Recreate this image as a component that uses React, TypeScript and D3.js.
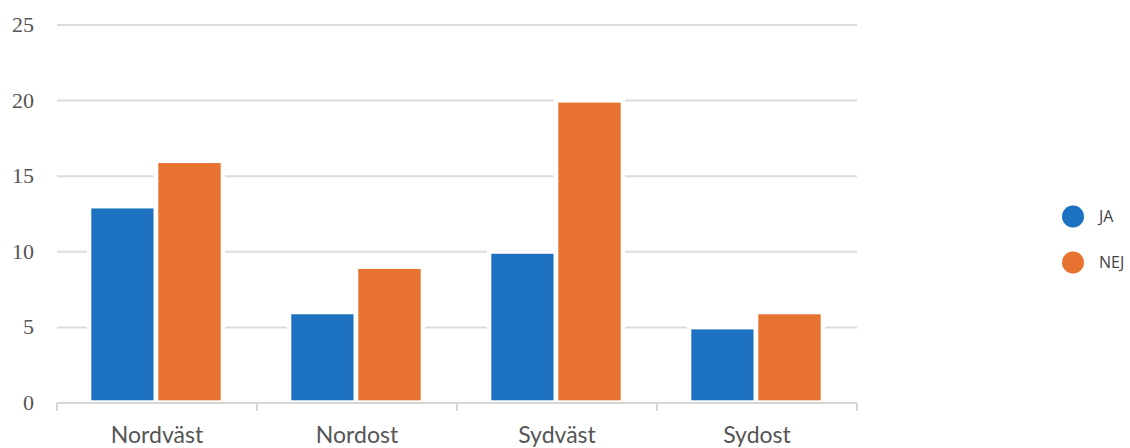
import React from "react";
import * as d3 from "d3";

const categories = ["Nordväst", "Nordost", "Sydväst", "Sydost"];
const seriesNames = ["JA", "NEJ"];
const jaValues = [13, 6, 10, 5];
const nejValues = [16, 9, 20, 6];
const yTicks = [0, 5, 10, 15, 20, 25];
const colors = ["#1c72c0", "#e87230"];

export default function App() {
  const W = 1130, H = 448;
  const x0 = d3.scaleBand<string>().domain(categories).range([57, 857]).padding(0);
  const x1 = d3.scaleBand<string>().domain(seriesNames).range([32, 166]).padding(0);
  const y = d3.scaleLinear().domain([0, 25]).range([403, 25]);
  const data = [jaValues, nejValues];
  const inset = 2.3;
  return (
    <svg width={W} height={H} style={{ position: "absolute", left: 0, top: 0 }}>
      <rect width={W} height={H} fill="#fff" />
      {yTicks.filter(t => t > 0).map(t => (
        <line key={t} x1={57} x2={857} y1={y(t)} y2={y(t)} stroke="#dcdcdc" strokeWidth={2} />
      ))}
      {yTicks.map(t => (
        <text key={t} x={34} y={y(t)} dy="0.32em" textAnchor="end" fontFamily="'Liberation Serif', serif" fontSize={22} fill="#555">{t}</text>
      ))}
      {categories.map((c, i) => seriesNames.map((s, j) => {
        const v = data[j][i];
        const bx = (x0(c) ?? 0) + (x1(s) ?? 0);
        const bw = x1.bandwidth();
        const top = y(v);
        const bottom = y(0);
        return (
          <g key={c + s}>
            <rect x={bx - inset} y={top - inset} width={bw + 2 * inset} height={bottom - top + inset} fill="#fff" />
            <rect x={bx + inset} y={top + 2} width={bw - 2 * inset} height={bottom - top - 4.7} fill={colors[j]} />
          </g>
        );
      }))}
      <line x1={57} x2={857} y1={y(0)} y2={y(0)} stroke="#d6d6d6" strokeWidth={2} />
      {[...categories.map(c => x0(c) ?? 0), 857].map((t, i) => (
        <line key={i} x1={t} x2={t} y1={y(0)} y2={y(0) + 8} stroke="#d6d6d6" strokeWidth={2} />
      ))}
      {categories.map(c => (
        <text key={c} x={(x0(c) ?? 0) + x0.bandwidth() / 2} y={443} textAnchor="middle" fontFamily="Lato, sans-serif" fontSize={23} fill="#555">{c}</text>
      ))}
      {seriesNames.map((s, j) => (
        <g key={s}>
          <circle cx={1073} cy={216.5 + j * 46} r={11} fill={colors[j]} />
          <text x={1099} y={216.5 + j * 46} dy="0.36em" fontFamily="'Open Sans', sans-serif" fontSize={16} fill="#444">{s}</text>
        </g>
      ))}
    </svg>
  );
}
